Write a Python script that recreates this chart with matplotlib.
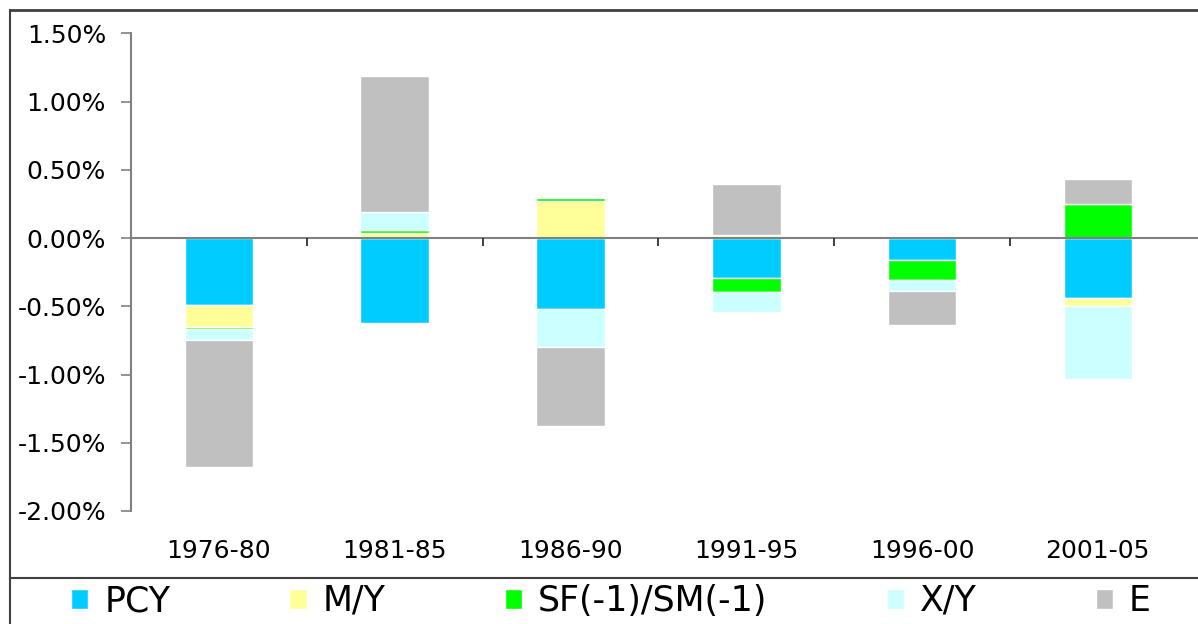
import numpy as np
import matplotlib.pyplot as plt
from matplotlib.lines import Line2D
from matplotlib.ticker import PercentFormatter

periods = ['1976-80', '1981-85', '1986-90', '1991-95', '1996-00', '2001-05']
series = ['PCY', 'M/Y', 'SF(-1)/SM(-1)', 'X/Y', 'E']

# contributions, in percent
pcy = [-0.49, -0.62, -0.52, -0.29, -0.16, -0.44]
my = [-0.165, 0.04, 0.27, 0.025, 0.015, -0.06]
sf = [-0.015, 0.02, 0.02, -0.105, -0.15, 0.25]
xy = [-0.075, 0.13, -0.28, -0.145, -0.08, -0.53]
e = [-0.93, 1.00, -0.58, 0.37, -0.25, 0.18]

colors = ['#00CCFF', '#FFFF99', '#00FF00', '#CCFFFF', '#C0C0C0']

plt.rcParams['font.family'] = 'DejaVu Sans'
plt.rcParams['axes.unicode_minus'] = False
W, H = 1198, 624
fig = plt.figure(figsize=(W/100, H/100), dpi=100)
ax = fig.add_axes([131/W, (H-511)/H, (W-131)/W, (511-33.3)/H])

x = np.arange(len(periods))
pos_base = np.zeros(len(periods))
neg_base = np.zeros(len(periods))
handles = []
for vals, col, name in zip([pcy, my, sf, xy, e], colors, series):
    v = np.array(vals)
    bottom = np.where(v >= 0, pos_base, neg_base)
    b = ax.bar(x, v, 0.39, bottom=bottom, color=col, edgecolor='white',
               linewidth=1, label=name, zorder=2)
    handles.append(b)
    pos_base += np.where(v >= 0, v, 0)
    neg_base += np.where(v < 0, v, 0)

grey = '#808080'
ax.set_xlim(-0.5, 5.57)
ax.set_ylim(-2.0, 1.5)
ax.set_yticks(np.arange(-2.0, 1.51, 0.5))
ax.yaxis.set_major_formatter(PercentFormatter(decimals=2))
ax.tick_params(axis='y', length=7, width=1.2, color=grey, pad=11,
               labelsize=18, labelcolor='black')
ax.spines['left'].set_color(grey)
ax.spines['left'].set_linewidth(1.5)
for s in ['top', 'right', 'bottom']:
    ax.spines[s].set_visible(False)

ax.set_xticks(x)
ax.set_xticklabels(periods)
ax.tick_params(axis='x', length=0, pad=20, labelsize=18)

# zero line with category separators pointing down
ax.axhline(0, color=grey, linewidth=1.5, zorder=3)
seps = np.arange(0.5, 5, 1.0)
ax.plot(seps, np.zeros_like(seps), linestyle='none', marker=3,
        markersize=6, markeredgewidth=1.3, color='#303030', zorder=3,
        clip_on=False)

# outer frame and legend separator
frame = '#404040'
fig.add_artist(Line2D([10/W, 1], [1-10/H, 1-10/H], color=frame, lw=2,
                      transform=fig.transFigure))
fig.add_artist(Line2D([10/W, 10/W], [0, 1-10/H], color=frame, lw=1.5,
                      transform=fig.transFigure))
fig.add_artist(Line2D([10/W, 1], [1-578/H, 1-578/H], color=frame, lw=1.5,
                      transform=fig.transFigure))

fig.legend(handles=handles, labels=series, loc='center',
           bbox_to_anchor=(611/W, 1-601/H), ncol=5, frameon=False,
           fontsize=25, handlelength=0.5, handleheight=0.5,
           handletextpad=0.46, columnspacing=3.43)

plt.savefig('out.png', dpi=100)
